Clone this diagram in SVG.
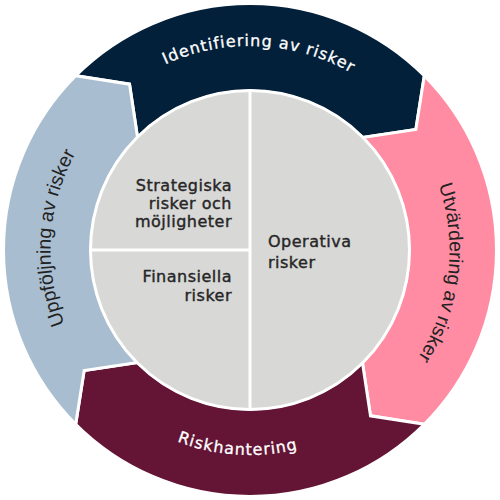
<svg xmlns="http://www.w3.org/2000/svg" xmlns:xlink="http://www.w3.org/1999/xlink" width="500" height="500" viewBox="0 0 500 500">
  <style>
    .seg { stroke: #ffffff; stroke-width: 3; stroke-linejoin: miter; }
    .ringW { font-family: "DejaVu Sans", "Noto Sans", sans-serif; font-size: 16px; fill: #ffffff; stroke: #ffffff; stroke-width: 0.3px; letter-spacing: 1px; }
    .ringD { font-family: "Liberation Sans", Arial, sans-serif; font-size: 19.5px; fill: #222222; }
    .inner { font-family: "DejaVu Sans", "Noto Sans", sans-serif; font-size: 16px; fill: #262626; stroke: #262626; stroke-width: 0.4px; letter-spacing: 0.5px; }
  </style>
  <defs>
    <path id="pTop" d="M 46,250 A 204 204 0 0 1 454,250"/>
    <path id="pRight" d="M 250,50.5 A 199.5 199.5 0 0 1 250,449.5"/>
    <path id="pLeft" d="M 250,449.5 A 199.5 199.5 0 0 1 250,50.5"/>
    <path id="pBottom" d="M 45,250 A 205 205 0 0 0 455,250"/>
  </defs>
  <rect width="500" height="500" fill="#ffffff"/>
  <g id="connectors">
    <g id="identifiering">
      <path class="seg" fill="#03203A" d="M 75.70,75.70 A 246.5 246.5 0 0 1 424.30,75.70 L 415.85,129.50 L 362.43,137.57 A 159 159 0 0 0 137.57,137.57 L 129.50,84.15 Z"/>
      <text class="ringW"><textPath xlink:href="#pTop" href="#pTop" startOffset="329.7" text-anchor="middle">Identifiering av risker</textPath></text>
    </g>
    <g id="utvardering">
      <path class="seg" fill="#FF8CA2" d="M 424.30,75.70 A 246.5 246.5 0 0 1 424.30,424.30 L 370.50,415.85 L 362.43,362.43 A 159 159 0 0 0 362.43,137.57 L 415.85,129.50 Z"/>
      <text class="ringD"><textPath xlink:href="#pRight" href="#pRight" startOffset="337" text-anchor="middle">Utvärdering av risker</textPath></text>
    </g>
    <g id="riskhantering">
      <path class="seg" fill="#641434" d="M 424.30,424.30 A 246.5 246.5 0 0 1 75.70,424.30 L 84.15,370.50 L 137.57,362.43 A 159 159 0 0 0 362.43,362.43 L 370.50,415.85 Z"/>
      <text class="ringW"><textPath xlink:href="#pBottom" href="#pBottom" startOffset="309" text-anchor="middle">Riskhantering</textPath></text>
    </g>
    <g id="uppfoljning">
      <path class="seg" fill="#A9BDD0" d="M 75.70,424.30 A 246.5 246.5 0 0 1 75.70,75.70 L 129.50,84.15 L 137.57,137.57 A 159 159 0 0 0 137.57,362.43 L 84.15,370.50 Z"/>
      <text class="ringD"><textPath xlink:href="#pLeft" href="#pLeft" startOffset="325.9" text-anchor="middle">Uppföljning av risker</textPath></text>
    </g>
  </g>
  <g id="inner-circle">
    <circle cx="250" cy="250" r="159.5" fill="#D8D8D6" stroke="#ffffff" stroke-width="3"/>
    <line x1="250" y1="90" x2="250" y2="410" stroke="#ffffff" stroke-width="3"/>
    <line x1="90" y1="250" x2="250" y2="250" stroke="#ffffff" stroke-width="3"/>
  </g>
  <g id="strategiska">
    <text class="inner" text-anchor="end"><tspan x="232" y="191">Strategiska</tspan><tspan x="232" y="209">risker och</tspan><tspan x="232" y="227">möjligheter</tspan></text>
  </g>
  <g id="finansiella">
    <text class="inner" text-anchor="end"><tspan x="232" y="282">Finansiella</tspan><tspan x="232" y="301">risker</tspan></text>
  </g>
  <g id="operativa">
    <text class="inner"><tspan x="268" y="247">Operativa</tspan><tspan x="268" y="268">risker</tspan></text>
  </g>
</svg>
